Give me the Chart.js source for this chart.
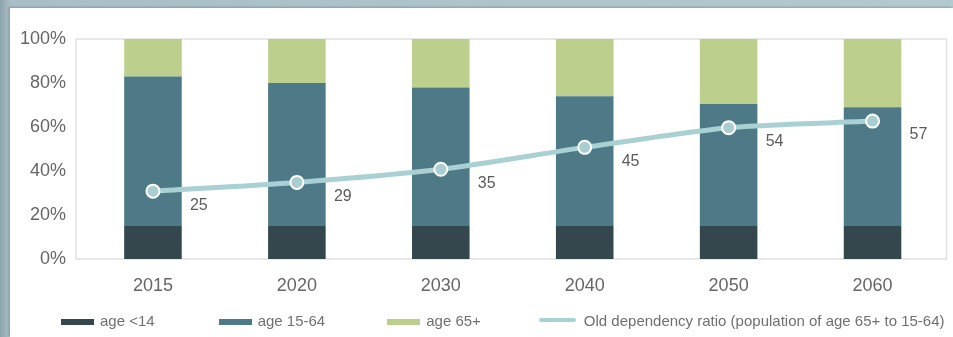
<!DOCTYPE html>
<html>
<head>
<meta charset="utf-8">
<script src="https://cdn.jsdelivr.net/npm/chart.js@4"></script>
<style>
  html, body { margin: 0; padding: 0; }
  body {
    width: 953px; height: 337px; overflow: hidden; position: relative;
    background: linear-gradient(90deg, #8ea4ad 0px, #a9bec6 10px, #b4c8cf 100%);
    font-family: "Liberation Sans", Arial, sans-serif;
  }
  #panel {
    position: absolute; left: 10px; top: 8px; width: 943px; height: 329px;
    background: #fff;
    box-shadow: -1px -1px 2px rgba(60, 80, 90, 0.35);
  }
  #chart { position: absolute; left: 0; top: 0; }
  #legend {
    position: absolute; left: 51px; top: 302px; height: 20px;
    display: flex; align-items: center; font-size: 15px; color: #707070;
  }
  .item { display: flex; align-items: center; white-space: nowrap; }
  .item:nth-child(1) { margin-right: 64px; }
  .item:nth-child(2) { margin-right: 62px; }
  .item:nth-child(3) { margin-right: 58px; }
  .swatch { width: 33px; height: 6px; margin-right: 6px; margin-top: 3px; }
  .swatch.line { width: 37px; height: 4px; border-radius: 2px; margin-top: 0; margin-right: 8px; }
</style>
</head>
<body>
<div id="panel">
  <canvas id="chart" width="943" height="329"></canvas>
  <div id="legend"></div>
</div>
<script>
const years = ["2015", "2020", "2030", "2040", "2050", "2060"];
const young = [15, 15, 15, 15, 15, 15];
const working = [68, 65, 63, 59, 55.5, 54];
const old = [17, 20, 22, 26, 29.5, 31];
const dependency = [25, 29, 35, 45, 54, 57];
const pctTicks = [0, 20, 40, 60, 80, 100];

const FONT = "'Liberation Sans', Arial, sans-serif";

// frame around the plot area (a little wider than the category band)
const plotFrame = {
    id: "plotFrame",
    beforeDatasetsDraw(chart) {
        const a = chart.chartArea;
        const ctx = chart.ctx;
        ctx.save();
        ctx.strokeStyle = "#e1e1e1";
        ctx.lineWidth = 1.5;
        ctx.strokeRect(a.left - 5, a.top, a.right - a.left + 7, a.bottom - a.top);
        ctx.restore();
    }
};

// ratio values next to the line points
const ratioLabels = {
    id: "ratioLabels",
    afterDatasetsDraw(chart) {
        const meta = chart.getDatasetMeta(3);
        const ctx = chart.ctx;
        ctx.save();
        ctx.font = "16px " + FONT;
        ctx.fillStyle = "#5c5c5c";
        ctx.textAlign = "left";
        ctx.textBaseline = "middle";
        meta.data.forEach((pt, i) => {
            ctx.fillText(String(dependency[i]), pt.x + 37, pt.y + 14);
        });
        ctx.restore();
    }
};

const ctx = document.getElementById("chart").getContext("2d");
const chart = new Chart(ctx, {
    type: "bar",
    data: {
        labels: years,
        datasets: [
            { label: "age <14", data: young, backgroundColor: "#33474d", order: 1 },
            { label: "age 15-64", data: working, backgroundColor: "#4e7a87", order: 1 },
            { label: "age 65+", data: old, backgroundColor: "#bccf8d", order: 1 },
            {
                label: "Old dependency ratio (population of age 65+ to 15-64)",
                type: "line",
                data: dependency,
                yAxisID: "y2",
                order: 0,
                borderColor: "#a9d1d4",
                backgroundColor: "#a9d1d4",
                borderWidth: 5,
                tension: 0.25,
                pointRadius: 6.5,
                pointBorderWidth: 2,
                pointBorderColor: "#ffffff",
                pointBackgroundColor: "#a9cdd1"
            }
        ]
    },
    options: {
        responsive: false,
        animation: false,
        layout: { padding: { top: 31, right: 8, left: 0, bottom: 0 } },
        datasets: { bar: { barPercentage: 0.4, categoryPercentage: 1 } },
        plugins: { legend: { display: false }, tooltip: { enabled: false } },
        scales: {
            x: {
                stacked: true,
                grid: { display: false, drawTicks: false },
                border: { display: false },
                ticks: { padding: 16, color: "#666", font: { size: 18, family: FONT } },
                afterFit(scale) { scale.height = 78; }
            },
            y: {
                stacked: true,
                min: 0,
                max: 100,
                grid: { display: false, drawTicks: false },
                border: { display: false },
                afterBuildTicks(scale) { scale.ticks = pctTicks.map(v => ({ value: v })); },
                ticks: {
                    padding: 15,
                    color: "#666",
                    font: { size: 18, family: FONT },
                    callback: v => v + "%"
                },
                afterFit(scale) { scale.width = 71; }
            },
            y2: {
                display: false,
                min: -6,
                max: 94.5
            }
        }
    },
    plugins: [plotFrame, ratioLabels]
});

// legend built from the chart's datasets
const legendEl = document.getElementById("legend");
chart.data.datasets.forEach(ds => {
    const item = document.createElement("div");
    item.className = "item";
    const sw = document.createElement("span");
    sw.className = ds.type === "line" ? "swatch line" : "swatch";
    sw.style.background = ds.type === "line" ? ds.borderColor : ds.backgroundColor;
    const txt = document.createElement("span");
    txt.textContent = ds.label;
    item.appendChild(sw);
    item.appendChild(txt);
    legendEl.appendChild(item);
});
</script>
</body>
</html>
